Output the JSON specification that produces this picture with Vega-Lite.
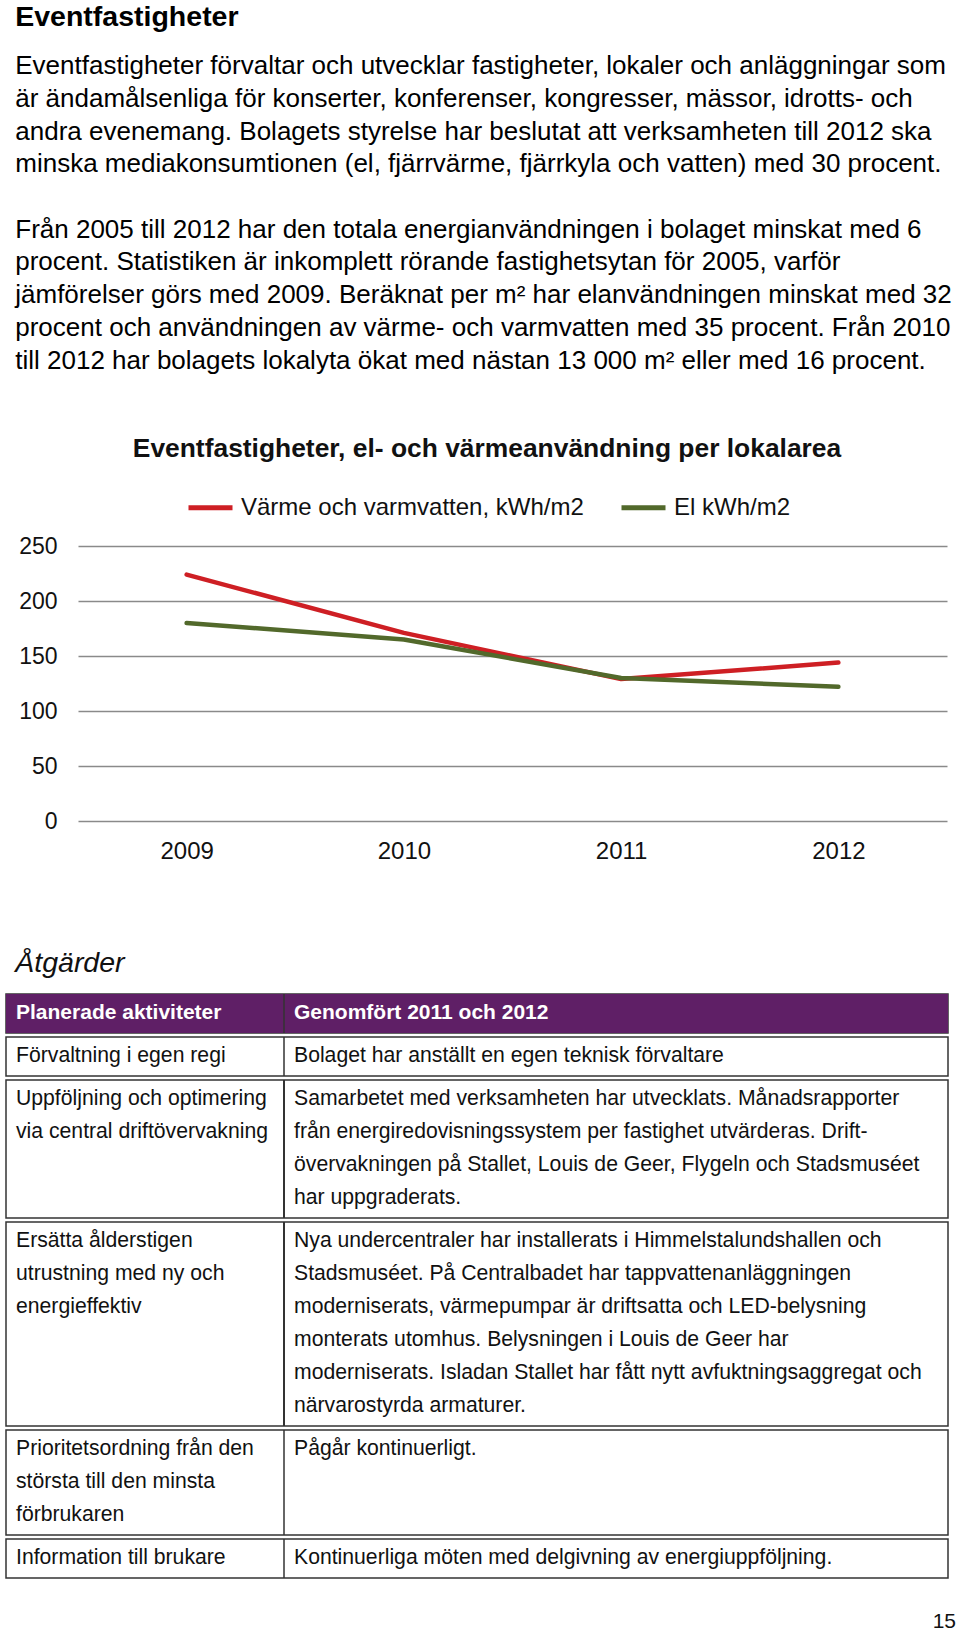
{
  "$schema": "https://vega.github.io/schema/vega-lite/v6.json",
  "background": "white",
  "padding": {"left": 5, "top": 2, "right": 0, "bottom": 0},
  "autosize": "pad",
  "config": {
    "font": "Liberation Sans",
    "view": {"stroke": null},
    "axis": {"labelFont": "Liberation Sans", "labelColor": "#111"}
  },
  "title": {
    "text": "Eventfastigheter",
    "subtitle": [
      "Eventfastigheter förvaltar och utvecklar fastigheter, lokaler och anläggningar som",
      "är ändamålsenliga för konserter, konferenser, kongresser, mässor, idrotts- och",
      "andra evenemang. Bolagets styrelse har beslutat att verksamheten till 2012 ska",
      "minska mediakonsumtionen (el, fjärrvärme, fjärrkyla och vatten) med 30 procent.",
      "\u200b",
      "Från 2005 till 2012 har den totala energianvändningen i bolaget minskat med 6",
      "procent. Statistiken är inkomplett rörande fastighetsytan för 2005, varför",
      "jämförelser görs med 2009. Beräknat per m² har elanvändningen minskat med 32",
      "procent och användningen av värme- och varmvatten med 35 procent. Från 2010",
      "till 2012 har bolagets lokalyta ökat med nästan 13 000 m² eller med 16 procent."
    ],
    "anchor": "start",
    "frame": "bounds",
    "dx": 10,
    "fontSize": 28.5,
    "fontWeight": "bold",
    "color": "#000",
    "subtitleFontSize": 26,
    "subtitleColor": "#000",
    "subtitleFont": "Liberation Sans",
    "subtitleLineHeight": 32.7,
    "subtitlePadding": 22,
    "offset": 62
  },
  "datasets": {
    "energi": [
      {"year": "2009", "series": "Värme och varmvatten, kWh/m2", "value": 224},
      {"year": "2010", "series": "Värme och varmvatten, kWh/m2", "value": 171},
      {"year": "2011", "series": "Värme och varmvatten, kWh/m2", "value": 129},
      {"year": "2012", "series": "Värme och varmvatten, kWh/m2", "value": 144},
      {"year": "2009", "series": "El kWh/m2", "value": 180},
      {"year": "2010", "series": "El kWh/m2", "value": 165},
      {"year": "2011", "series": "El kWh/m2", "value": 130},
      {"year": "2012", "series": "El kWh/m2", "value": 122}
    ],
    "tabell": [
      {"rad": 0, "kolumn": "A", "linje": 0, "text": "Planerade aktiviteter"},
      {"rad": 0, "kolumn": "B", "linje": 0, "text": "Genomfört 2011 och 2012"},
      {"rad": 1, "kolumn": "A", "linje": 0, "text": "Förvaltning i egen regi"},
      {"rad": 1, "kolumn": "B", "linje": 0, "text": "Bolaget har anställt en egen teknisk förvaltare"},
      {"rad": 2, "kolumn": "A", "linje": 0, "text": "Uppföljning och optimering"},
      {"rad": 2, "kolumn": "A", "linje": 1, "text": "via central driftövervakning"},
      {"rad": 2, "kolumn": "B", "linje": 0, "text": "Samarbetet med verksamheten har utvecklats. Månadsrapporter"},
      {"rad": 2, "kolumn": "B", "linje": 1, "text": "från energiredovisningssystem per fastighet utvärderas. Drift-"},
      {"rad": 2, "kolumn": "B", "linje": 2, "text": "övervakningen på Stallet, Louis de Geer, Flygeln och Stadsmuséet"},
      {"rad": 2, "kolumn": "B", "linje": 3, "text": "har uppgraderats."},
      {"rad": 3, "kolumn": "A", "linje": 0, "text": "Ersätta ålderstigen"},
      {"rad": 3, "kolumn": "A", "linje": 1, "text": "utrustning med ny och"},
      {"rad": 3, "kolumn": "A", "linje": 2, "text": "energieffektiv"},
      {"rad": 3, "kolumn": "B", "linje": 0, "text": "Nya undercentraler har installerats i Himmelstalundshallen och"},
      {"rad": 3, "kolumn": "B", "linje": 1, "text": "Stadsmuséet. På Centralbadet har tappvattenanläggningen"},
      {"rad": 3, "kolumn": "B", "linje": 2, "text": "moderniserats, värmepumpar är driftsatta och LED-belysning"},
      {"rad": 3, "kolumn": "B", "linje": 3, "text": "monterats utomhus. Belysningen i Louis de Geer har"},
      {"rad": 3, "kolumn": "B", "linje": 4, "text": "moderniserats. Isladan Stallet har fått nytt avfuktningsaggregat och"},
      {"rad": 3, "kolumn": "B", "linje": 5, "text": "närvarostyrda armaturer."},
      {"rad": 4, "kolumn": "A", "linje": 0, "text": "Prioritetsordning från den"},
      {"rad": 4, "kolumn": "A", "linje": 1, "text": "största till den minsta"},
      {"rad": 4, "kolumn": "A", "linje": 2, "text": "förbrukaren"},
      {"rad": 4, "kolumn": "B", "linje": 0, "text": "Pågår kontinuerligt."},
      {"rad": 5, "kolumn": "A", "linje": 0, "text": "Information till brukare"},
      {"rad": 5, "kolumn": "B", "linje": 0, "text": "Kontinuerliga möten med delgivning av energiuppföljning."}
    ],
    "sida": [{"nummer": "15"}]
  },
  "spacing": 20,
  "vconcat": [
    {
      "width": 942,
      "height": 275,
      "data": {"name": "energi"},
      "title": {
        "text": "Eventfastigheter, el- och värmeanvändning per lokalarea",
        "fontSize": 26.4,
        "fontWeight": "bold",
        "color": "#111",
        "anchor": "middle",
        "frame": "group",
        "dx": 10,
        "offset": 73
      },
      "mark": {"type": "line", "strokeWidth": 4.5, "strokeCap": "round", "strokeJoin": "round"},
      "encoding": {
        "x": {
          "field": "year", "type": "ordinal",
          "scale": {"type": "point", "padding": 0.5, "range": [72, 941]},
          "axis": {"title": null, "labelAngle": 0, "ticks": false, "tickSize": 0, "domain": false, "labelFontSize": 24, "labelPadding": 18, "minExtent": 108}
        },
        "y": {
          "field": "value", "type": "quantitative",
          "scale": {"domain": [0, 250]},
          "axis": {"title": null, "values": [0, 50, 100, 150, 200, 250], "ticks": false, "tickSize": 0, "domain": false, "labelFontSize": 23, "labelPadding": 0, "offset": -51, "gridColor": "#8a8a8a", "gridWidth": 1.3}
        },
        "color": {
          "field": "series", "type": "nominal",
          "scale": {"domain": ["Värme och varmvatten, kWh/m2", "El kWh/m2"], "range": ["#CE1F24", "#52692B"]},
          "legend": {
            "title": null, "orient": "none", "direction": "horizontal",
            "legendX": 180, "legendY": -63,
            "symbolType": "stroke", "symbolSize": 1936, "symbolStrokeWidth": 5,
            "labelFontSize": 24, "labelColor": "#111", "labelOffset": 6, "labelLimit": 0, "columnPadding": 27, "padding": 0
          }
        }
      }
    },
    {
      "data": {"name": "tabell"},
      "title": {
        "text": "Åtgärder", "anchor": "start", "frame": "bounds", "dx": 10,
        "fontSize": 28.5, "fontStyle": "italic", "fontWeight": "normal", "color": "#111", "offset": 15
      },
      "facet": {"row": {"field": "rad", "type": "ordinal", "header": null}},
      "spacing": 0,
      "resolve": {"scale": {"y": "independent"}},
      "spec": {
        "width": 942,
        "height": {"step": 33},
        "view": {"stroke": "#333", "strokeWidth": 1.5},
        "layer": [
          {
            "transform": [{"filter": "datum.rad == 0"}],
            "mark": {"type": "rect", "color": "#5F1F66"},
            "encoding": {"x": {"value": 0}, "x2": {"value": "width"}, "y": {"value": 0}, "y2": {"value": "height"}}
          },
          {
            "transform": [{"filter": "datum.kolumn == 'B'"}],
            "mark": {"type": "rule", "color": "#333", "strokeWidth": 1.5, "xOffset": -10},
            "encoding": {
              "x": {"field": "kolumn", "type": "nominal", "scale": {"type": "point", "range": [10, 288], "padding": 0}, "axis": null},
              "y": {"value": 0}, "y2": {"value": "height"}
            }
          },
          {
            "transform": [{"filter": "datum.rad == 0"}],
            "mark": {"type": "text", "align": "left", "baseline": "middle", "fontSize": 21, "fontWeight": "bold", "color": "white"},
            "encoding": {
              "x": {"field": "kolumn", "type": "nominal", "axis": null},
              "y": {"field": "linje", "type": "ordinal", "scale": {"type": "point", "padding": 0.59}, "axis": null},
              "text": {"field": "text"}
            }
          },
          {
            "transform": [{"filter": "datum.rad > 0"}],
            "mark": {"type": "text", "align": "left", "baseline": "middle", "fontSize": 21.2, "color": "#111"},
            "encoding": {
              "x": {"field": "kolumn", "type": "nominal", "axis": null},
              "y": {"field": "linje", "type": "ordinal", "axis": null},
              "text": {"field": "text"}
            }
          }
        ]
      }
    },
    {
      "width": 950,
      "height": 32,
      "data": {"name": "sida"},
      "mark": {"type": "text", "align": "right", "baseline": "bottom", "fontSize": 21, "color": "#111"},
      "encoding": {"x": {"value": "width"}, "y": {"value": "height"}, "text": {"field": "nummer"}}
    }
  ]
}
